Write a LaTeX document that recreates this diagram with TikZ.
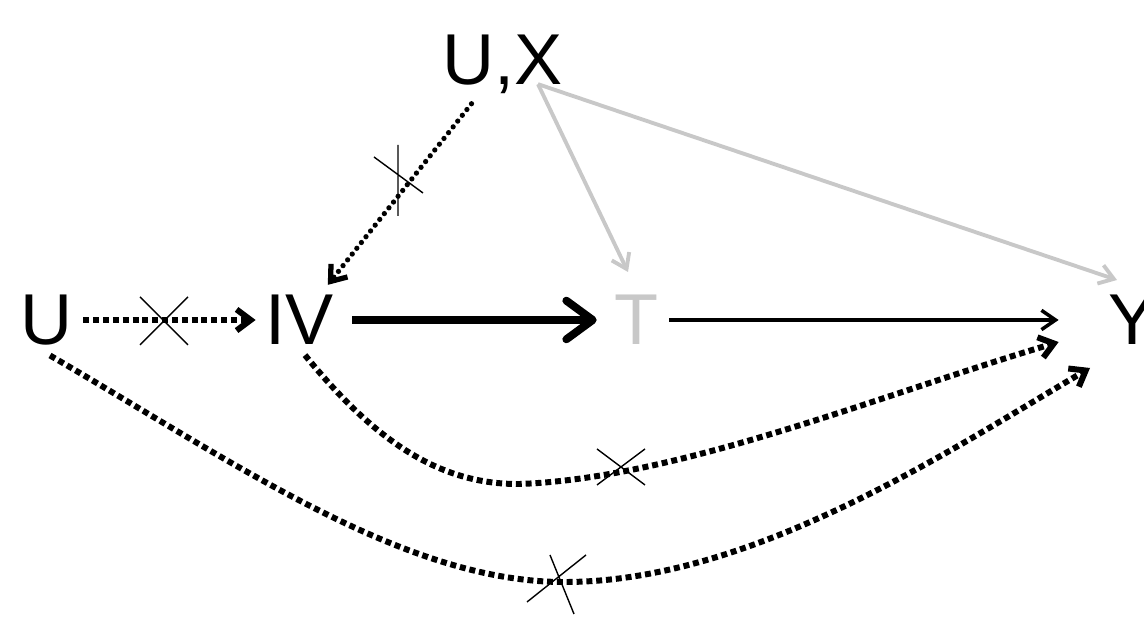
\documentclass[tikz,border=0pt]{standalone}
\usepackage{fontspec}
\setmainfont{Liberation Sans}
\usetikzlibrary{arrows.meta,positioning}
\definecolor{lightgrey}{RGB}{200,200,200}
\tikzset{
  lbl/.style={font=\fontsize{41}{48}\selectfont, inner sep=0.2cm},
  dots/.style={line width=3.4pt, dash pattern=on 3.4pt off 2.2pt,
    -{Straight Barb[length=8pt,width=12pt]}},
  dotsround/.style={line width=3pt, line cap=round, dash pattern=on 0pt off 4.2pt,
    -{Straight Barb[length=8pt,width=12pt]}},
  heavy/.style={line width=4.5pt, -{Straight Barb[round,length=15pt,width=22pt]}},
  plain/.style={line width=2pt, -{Straight Barb[length=8pt,width=11pt]}},
  faint/.style={lightgrey, line width=2.2pt, -{Straight Barb[length=8pt,width=11pt]}},
  crossline/.style={line width=0.8pt}
}
\begin{document}
\begin{tikzpicture}
            \useasboundingbox (0,0) rectangle (22.88,12.68);
            \node[lbl] (U) at (0.94,6.28) {U};
            \node[lbl, right of=U, xshift=4.06cm] (IV) {IV};
            \node[lbl, right of=IV, xshift=5.74cm, text=lightgrey] (T) {T};
            \node[lbl, right of=T, xshift=8.92cm, inner xsep=1cm] (Y) {Y};
            \node[lbl, above of=T, yshift=4.12cm, xshift=-2.68cm] (UX) {U,X};

            % straight connectors
            \draw[dots] (U) -- (IV);
            \draw[dotsround] (UX) -- (IV);
            \draw[heavy, shorten <=0.16cm, shorten >=0.16cm] (IV) -- (T);
            \draw[plain] (T) -- (Y);
            \draw[faint] ([xshift=0.7cm]UX.base) -- ([xshift=-0.18cm,yshift=0.96cm]T.center);
            \draw[faint] ([xshift=0.7cm]UX.base) -- ([xshift=-0.32cm,yshift=0.8cm]Y.center);

            % curved connectors
            \draw[dots] ([xshift=0.1cm]IV.south) .. controls (7.4,3.98) and (8.7,2.98) .. (10.4,3.0)
                .. controls (13.6,3.12) and (17.6,4.78) .. (Y);
            \draw[dots] ([xshift=0.06cm]U.south) .. controls (4.6,3.48) and (8,1.08) .. (11.2,1.04)
                .. controls (15,1.0) and (19,3.68) .. ([xshift=-0.86cm,yshift=-0.96cm]Y.center);

            % crosses
            \draw[crossline] (3.28,6.26) +(-0.48,0.48) -- +(0.48,-0.48)
                (3.28,6.26) +(-0.48,-0.48) -- +(0.48,0.48);
            \draw[crossline] (7.96,9.78) -- (7.96,8.36) (7.48,9.54) -- (8.46,8.82);
            \draw[crossline] (12.42,3.34) +(-0.48,0.36) -- +(0.48,-0.36)
                (12.42,3.34) +(-0.48,-0.36) -- +(0.48,0.36);
            \draw[crossline] (10.54,0.64) -- (11.72,1.58) (11.0,1.58) -- (11.48,0.40);
        \end{tikzpicture}
\end{document}
